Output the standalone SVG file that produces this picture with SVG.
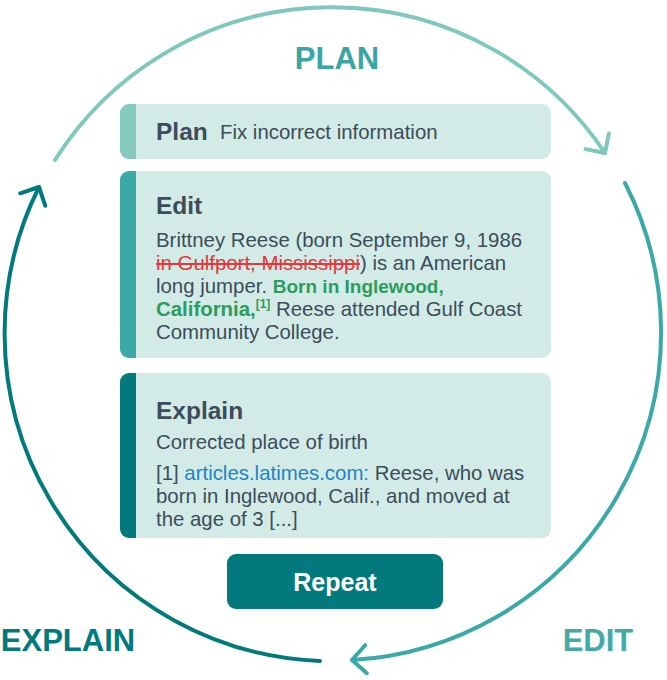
<svg xmlns="http://www.w3.org/2000/svg" width="667" height="680" viewBox="0 0 667 680">
<style>
.box{fill:#d3ebe7}
.h{font-family:"Liberation Sans",Arial,sans-serif;font-weight:bold;font-size:24.5px;fill:#3b4d5a}
.t{font-family:"Liberation Sans",Arial,sans-serif;font-size:20.4px;fill:#3b4d5a}
.s{font-family:"Liberation Sans",Arial,sans-serif;font-size:20.4px;fill:#3b4d5a}
.red{fill:#e3383f;text-decoration:line-through}
.grn{fill:#2c9b5c;font-weight:bold}
.blu{fill:#1b86c2}
.lbl{font-family:"Liberation Sans",Arial,sans-serif;font-weight:bold;font-size:31px;text-anchor:middle}
.arc{fill:none;stroke-width:4;stroke-linecap:round}
</style>
<defs>
<marker id="aPlan" viewBox="-16 -16 20 32" markerWidth="20" markerHeight="32" refX="0" refY="0" orient="auto" markerUnits="userSpaceOnUse">
<path d="M-14,-14 L0,0 L-14,14" fill="none" stroke="#7fc8bd" stroke-width="4" stroke-linecap="round" stroke-linejoin="round"/>
</marker>
<marker id="aEdit" viewBox="-16 -16 20 32" markerWidth="20" markerHeight="32" refX="0" refY="0" orient="auto" markerUnits="userSpaceOnUse">
<path d="M-14,-14 L0,0 L-14,14" fill="none" stroke="#3aa9a8" stroke-width="4" stroke-linecap="round" stroke-linejoin="round"/>
</marker>
<marker id="aExplain" viewBox="-16 -16 20 32" markerWidth="20" markerHeight="32" refX="0" refY="0" orient="auto" markerUnits="userSpaceOnUse">
<path d="M-14,-14 L0,0 L-14,14" fill="none" stroke="#027a7d" stroke-width="4" stroke-linecap="round" stroke-linejoin="round"/>
</marker>
</defs>
<rect width="667" height="680" fill="#ffffff"/>
<g id="connectors">
<path class="arc" stroke="#7fc8bd" d="M55,160 A328,328 0 0 1 605,153" marker-end="url(#aPlan)"/>
<path class="arc" stroke="#3aa9a8" d="M625,183 A328,328 0 0 1 352,660" marker-end="url(#aEdit)"/>
<path class="arc" stroke="#027a7d" d="M320,661 A328,328 0 0 1 39,187" marker-end="url(#aExplain)"/>
</g>
<g id="label-plan"><text class="lbl" x="337" y="69" fill="#3aa5a3">PLAN</text></g>
<g id="label-edit"><text class="lbl" x="598" y="651" fill="#43aaa8">EDIT</text></g>
<g id="label-explain"><text class="lbl" x="68" y="651" fill="#027a7d">EXPLAIN</text></g>
<g id="plan">
<rect class="box" x="120" y="104" width="431" height="55" rx="9"/>
<path d="M129,104 H136 V159 H129 A9,9 0 0 1 120,150 V113 A9,9 0 0 1 129,104 Z" fill="#86cabf"/>
<text class="h" x="156" y="140">Plan</text>
<text class="s" x="220" y="139">Fix incorrect information</text>
</g>
<g id="edit">
<rect class="box" x="120" y="171" width="431" height="187" rx="9"/>
<path d="M129,171 H136 V358 H129 A9,9 0 0 1 120,349 V180 A9,9 0 0 1 129,171 Z" fill="#3aa9a8"/>
<text class="h" x="156" y="214">Edit</text>
<text class="t" x="156" y="247">Brittney Reese (born September 9, 1986</text>
<text class="t" x="156" y="270"><tspan class="red">in Gulfport, Mississippi</tspan>) is an American</text>
<text class="t" x="156" y="293">long jumper. <tspan class="grn" font-size="19">Born in Inglewood,</tspan></text>
<text class="t" x="156" y="316"><tspan class="grn">California,</tspan><tspan class="grn" font-size="12" dy="-8">[1]</tspan><tspan dy="8"> Reese attended Gulf Coast</tspan></text>
<text class="t" x="156" y="339">Community College.</text>
</g>
<g id="explain">
<rect class="box" x="120" y="373" width="431" height="165" rx="9"/>
<path d="M129,373 H136 V538 H129 A9,9 0 0 1 120,529 V382 A9,9 0 0 1 129,373 Z" fill="#027a7d"/>
<text class="h" x="156" y="419">Explain</text>
<text class="s" x="156" y="449">Corrected place of birth</text>
<text class="t" x="156" y="480">[1] <tspan class="blu">articles.latimes.com:</tspan> Reese, who was</text>
<text class="t" x="156" y="503">born in Inglewood, Calif., and moved at</text>
<text class="t" x="156" y="526">the age of 3 [...]</text>
</g>
<g id="repeat">
<rect x="227" y="554" width="216" height="55" rx="9" fill="#027a7d"/>
<text x="335" y="591" text-anchor="middle" font-family="Liberation Sans, Arial, sans-serif" font-weight="bold" font-size="25" fill="#ffffff">Repeat</text>
</g>
</svg>
